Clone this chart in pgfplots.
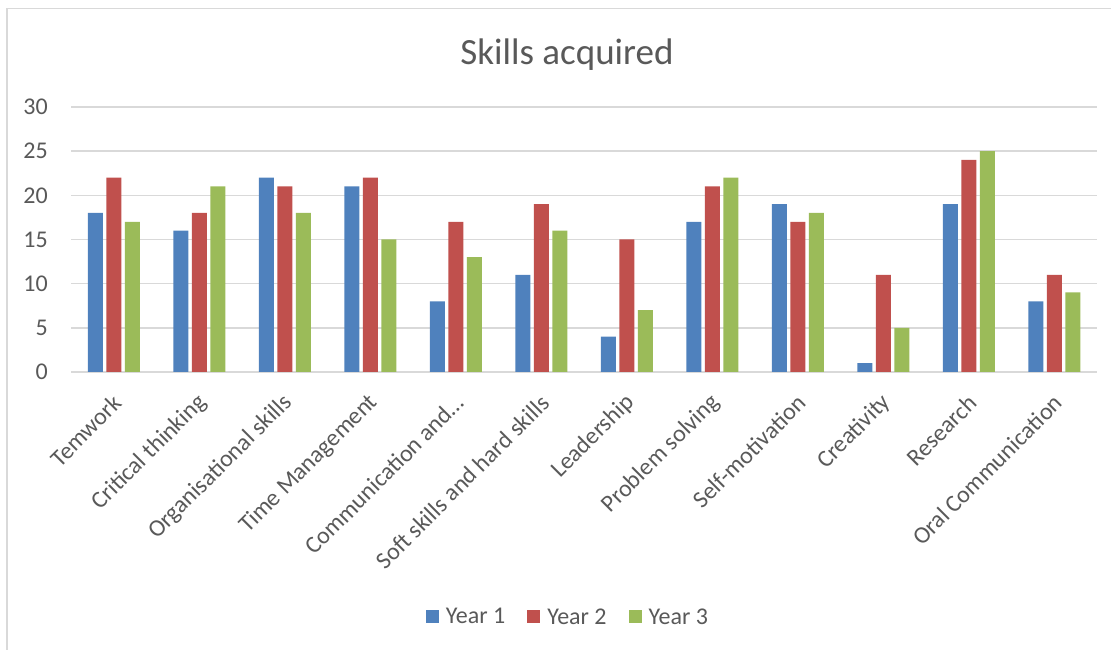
\documentclass[border=0pt]{standalone}
\usepackage{fontspec}
\setmainfont{Carlito}
\usepackage{pgfplots}
\pgfplotsset{compat=1.18}
\definecolor{cA}{HTML}{4F81BD}
\definecolor{cB}{HTML}{C0504D}
\definecolor{cC}{HTML}{9BBB59}
\definecolor{txt}{HTML}{595959}
\definecolor{gridc}{HTML}{D9D9D9}
\begin{document}
\begin{tikzpicture}[x=1pt,y=1pt]
\path[use as bounding box] (0,0) rectangle (1111,650);
\draw[gridc, line width=1.5pt] (7,-10) -- (7,641.5) -- (1125,641.5);
\begin{axis}[
  at={(71pt,278pt)}, anchor=south west,
  width=1026pt, height=265pt, scale only axis,
  xmin=-0.5, xmax=11.5, ymin=0, ymax=30,
  ybar=3.5pt, bar width=15pt,
  ytick={0,5,...,30},
  xtick={0,...,11},
  xticklabels={Temwork, Critical thinking, Organisational skills, Time Management, Communication and\ldots, Soft skills and hard skills, Leadership, Problem solving, Self-motivation, Creativity, Research, Oral Communication},
  ymajorgrids, grid style={gridc, line width=1.5pt},
  axis line style={draw=none},
  major tick length=0pt,
  /pgf/number format/assume math mode=true,
  tick label style={font=\fontsize{24}{28}\selectfont, text=txt},
  yticklabel style={inner sep=0pt, anchor=east, xshift=-23pt},
  xticklabel style={inner sep=0pt, xshift=4pt, yshift=-27pt, rotate=45, anchor=east},
  title={Skills acquired},
  title style={at={(0.4834,1.175)}, anchor=center, font=\fontsize{37}{44}\selectfont, text=txt, inner sep=0pt},
  legend columns=-1,
  legend style={at={(0.4834,-0.9245)}, anchor=center, draw=none, fill=none,
    font=\fontsize{24}{28}\selectfont, text=txt,
    nodes={inner sep=0pt},
    /tikz/every odd column/.append style={column sep=7pt},
    /tikz/every even column/.append style={column sep=22pt}},
  legend image code/.code={\fill[#1] (0pt,-6.5pt) rectangle (13pt,6.5pt);},
]
\addplot[fill=cA, draw=none] coordinates {(0,18) (1,16) (2,22) (3,21) (4,8) (5,11) (6,4) (7,17) (8,19) (9,1) (10,19) (11,8)};
\addplot[fill=cB, draw=none] coordinates {(0,22) (1,18) (2,21) (3,22) (4,17) (5,19) (6,15) (7,21) (8,17) (9,11) (10,24) (11,11)};
\addplot[fill=cC, draw=none] coordinates {(0,17) (1,21) (2,18) (3,15) (4,13) (5,16) (6,7) (7,22) (8,18) (9,5) (10,25) (11,9)};
\legend{Year 1, Year 2, Year 3}
\end{axis}
\end{tikzpicture}
\end{document}
